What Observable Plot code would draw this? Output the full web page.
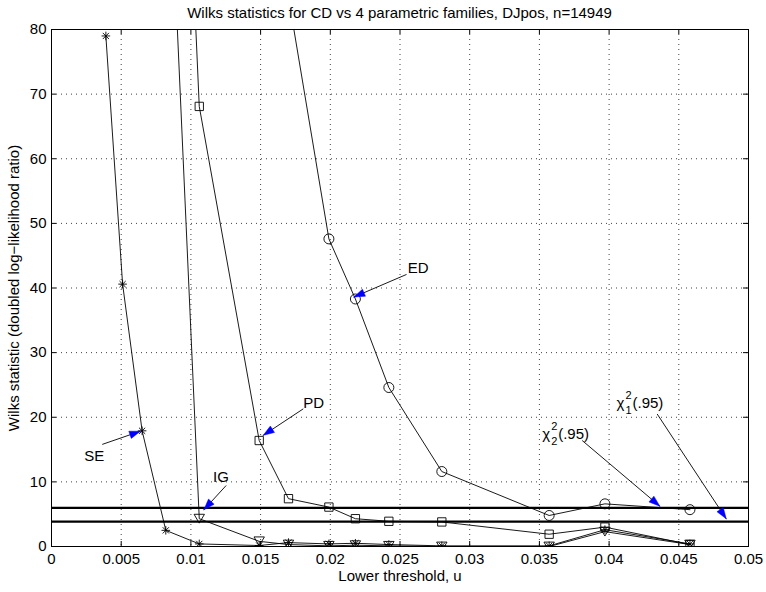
<!DOCTYPE html>
<html><head><meta charset="utf-8">
<script src="https://cdn.jsdelivr.net/npm/d3@7"></script>
<script src="https://cdn.jsdelivr.net/npm/@observablehq/plot@0.6"></script>
<style>
body{margin:0;background:#fff;font-family:"Liberation Sans",Arial,sans-serif;}
#title{position:absolute;left:51px;width:697px;top:0;height:12px;text-align:center;font-size:15px;line-height:26px;color:#000;white-space:nowrap;z-index:2;}
#chart{position:absolute;top:12px;left:0;}
</style></head><body>
<div id="title">Wilks statistics for CD vs 4 parametric families, DJpos, n=14949</div>
<div id="chart"></div>
<script>
// ---- data ----
const thresholds = [0.0039, 0.0051, 0.0065, 0.0082, 0.0106, 0.0149, 0.0170, 0.0199, 0.0218, 0.0242, 0.0280, 0.0357, 0.0397, 0.0458];
const seValues = [79.0, 40.6, 17.9, 2.5, 0.4, 0.15, 0.6, 0.4, 0.5, 0.3, 0.1, 0.1, 2.6, 0.4];
const igValues = [null, null, null, 120, 4.3, 0.8, 0.3, 0.1, 0.2, 0.1, 0.0, 0.0, 2.3, 0.3];
const pdValues = [null, null, null, 185, 68.1, 16.4, 7.4, 6.1, 4.3, 3.9, 3.8, 1.9, 3.0, 0.3];
const edValues = [null, null, null, null, null, null, 85, 47.6, 38.3, 24.6, 11.6, 4.8, 6.6, 5.7];
const chi2Levels = [5.99, 3.84];
const xTicks = [0, 0.005, 0.01, 0.015, 0.02, 0.025, 0.03, 0.035, 0.04, 0.045, 0.05];
const xTickLabels = ["0", "0.005", "0.01", "0.015", "0.02", "0.025", "0.03", "0.035", "0.04", "0.045", "0.05"];
const yTicks = [0, 10, 20, 30, 40, 50, 60, 70, 80];
const yTickLabels = ["0", "10", "20", "30", "40", "50", "60", "70", "80"];
const annotationNames = ["ED", "PD", "SE", "IG"];
const annotationText = [[0.02631, 43.1], [0.01880, 22.1], [0.00306, 14.0], [0.01216, 10.7]];
const arrowStarts = [[0.02547, 42.1], [0.01806, 21.3], [0.00364, 15.8], [0.01253, 9.44], [0.03807, 16.4], [0.04345, 20.5]];
const arrowTips = [[0.02169, 38.6], [0.01519, 17.2], [0.00638, 17.84], [0.01093, 5.68], [0.04364, 6.24], [0.0484, 4.29]];
const chiLabels = [{sub: "2", x: 0.03520, y: 17.4}, {sub: "1", x: 0.04053, y: 22.1}];

// ---- layout ----
const W = 766, H = 580, mL = 51, mR = 18, mT = 17, mB = 46;
const fw = W - mL - mR, fh = H - mT - mB;
const kx = fw / 0.05, ky = fh / 80;

const series = [
  {name: "SE", values: seValues},
  {name: "IG", values: igValues},
  {name: "PD", values: pdValues},
  {name: "ED", values: edValues}
];
const rows = series.flatMap(s => thresholds.map((u, i) => ({series: s.name, u, w: s.values[i]})).filter(d => d.w != null));
const bySeries = name => rows.filter(d => d.series === name);

const asterisk8 = {draw(ctx, size) {
  const r = Math.sqrt(size / Math.PI), d = r * 0.72;
  ctx.moveTo(-r, 0); ctx.lineTo(r, 0); ctx.moveTo(0, -r); ctx.lineTo(0, r);
  ctx.moveTo(-d, -d); ctx.lineTo(d, d); ctx.moveTo(-d, d); ctx.lineTo(d, -d);
}};
const triDown = {draw(ctx, size) {
  const r = Math.sqrt(size / Math.PI), h = r * 0.85;
  ctx.moveTo(-r, -h); ctx.lineTo(r, -h); ctx.lineTo(0, h); ctx.closePath();
}};

const arrows = arrowStarts.map((s, i) => ({id: i, x1: s[0], y1: s[1], x2: arrowTips[i][0], y2: arrowTips[i][1]}));
const heads = arrows.flatMap(a => {
  const dxp = (a.x2 - a.x1) * kx, dyp = -(a.y2 - a.y1) * ky;
  const len = Math.hypot(dxp, dyp), ux = dxp / len, uy = dyp / len;
  const L = 11, Wd = 3.8;
  const bx = -ux * L, by = -uy * L;
  const pts = [[0, 0], [bx - uy * Wd, by + ux * Wd], [bx + uy * Wd, by - ux * Wd], [0, 0]];
  return pts.map(([px, py]) => ({id: a.id, x: a.x2 + px / kx, y: a.y2 - py / ky}));
});
const annos = annotationNames.map((t, i) => ({t, x: annotationText[i][0], y: annotationText[i][1]}));

const xFmt = new Map(xTicks.map((t, i) => [t, xTickLabels[i]]));
const yFmt = new Map(yTicks.map((t, i) => [t, yTickLabels[i]]));
const font = "Liberation Sans, Arial, sans-serif";

const chart = Plot.plot({
  width: W, height: H,
  marginLeft: mL, marginRight: mR, marginTop: mT, marginBottom: mB,
  style: {fontFamily: font, fontSize: "15px", color: "#000", background: "transparent"},
  x: {domain: [0, 0.05], ticks: xTicks, tickFormat: d => xFmt.get(d), tickSize: 0, tickPadding: 7, label: null},
  y: {domain: [0, 80], ticks: yTicks, tickFormat: d => yFmt.get(d), tickSize: 0, tickPadding: 5, label: null},
  marks: [
    Plot.ruleX(xTicks, {stroke: "#000", strokeOpacity: 0.75, strokeDasharray: "1,4"}),
    Plot.ruleY(yTicks, {stroke: "#000", strokeOpacity: 0.75, strokeDasharray: "1,4"}),
    Plot.ruleX(xTicks, {insetTop: fh - 5, stroke: "#000"}),
    Plot.ruleX(xTicks, {insetBottom: fh - 5, stroke: "#000"}),
    Plot.ruleY(yTicks, {insetRight: fw - 5, stroke: "#000"}),
    Plot.ruleY(yTicks, {insetLeft: fw - 5, stroke: "#000"}),
    Plot.ruleY(chi2Levels, {stroke: "#000", strokeWidth: 2.2}),
    Plot.line(rows, {x: "u", y: "w", z: "series", stroke: "#000", strokeWidth: 0.9, clip: true}),
    Plot.dot(bySeries("SE"), {x: "u", y: "w", symbol: asterisk8, r: 4.3, stroke: "#000", fill: "none", strokeWidth: 0.9, clip: true}),
    Plot.dot(bySeries("IG"), {x: "u", y: "w", symbol: triDown, r: 5.2, stroke: "#000", fill: "none", strokeWidth: 0.9, clip: true}),
    Plot.dot(bySeries("PD"), {x: "u", y: "w", symbol: "square", r: 4.7, stroke: "#000", fill: "none", strokeWidth: 0.9, clip: true}),
    Plot.dot(bySeries("ED"), {x: "u", y: "w", symbol: "circle", r: 5, stroke: "#000", fill: "none", strokeWidth: 0.9, clip: true}),
    Plot.link(arrows, {x1: "x1", y1: "y1", x2: "x2", y2: "y2", stroke: "#000", strokeWidth: 0.9}),
    Plot.line(heads, {x: "x", y: "y", z: "id", fill: "#0000ff", stroke: "#0000ff", strokeWidth: 0.5}),
    Plot.text(annos, {x: "x", y: "y", text: "t", fontSize: 15, fill: "#000"}),
    Plot.text(chiLabels, {x: "x", y: "y", text: () => "χ", fontSize: 15, textAnchor: "start", fill: "#000"}),
    Plot.text(chiLabels, {x: "x", y: "y", text: () => "2", fontSize: 11, textAnchor: "start", dx: 9, dy: -8, fill: "#000"}),
    Plot.text(chiLabels, {x: "x", y: "y", text: "sub", fontSize: 11, textAnchor: "start", dx: 9, dy: 7, fill: "#000"}),
    Plot.text(chiLabels, {x: "x", y: "y", text: () => "(.95)", fontSize: 15, textAnchor: "start", dx: 16, fill: "#000"}),
    Plot.text(["Lower threshold, u"], {frameAnchor: "bottom", dy: 34, fontSize: 15, fill: "#000"}),
    Plot.text(["Wilks statistic (doubled log\u2212likelihood ratio)"], {frameAnchor: "left", textAnchor: "middle", rotate: -90, dx: -37, fontSize: 15, fill: "#000"}),
    Plot.frame({stroke: "#000", strokeWidth: 1})
  ]
});
document.getElementById("chart").appendChild(chart);
</script>
</body></html>
